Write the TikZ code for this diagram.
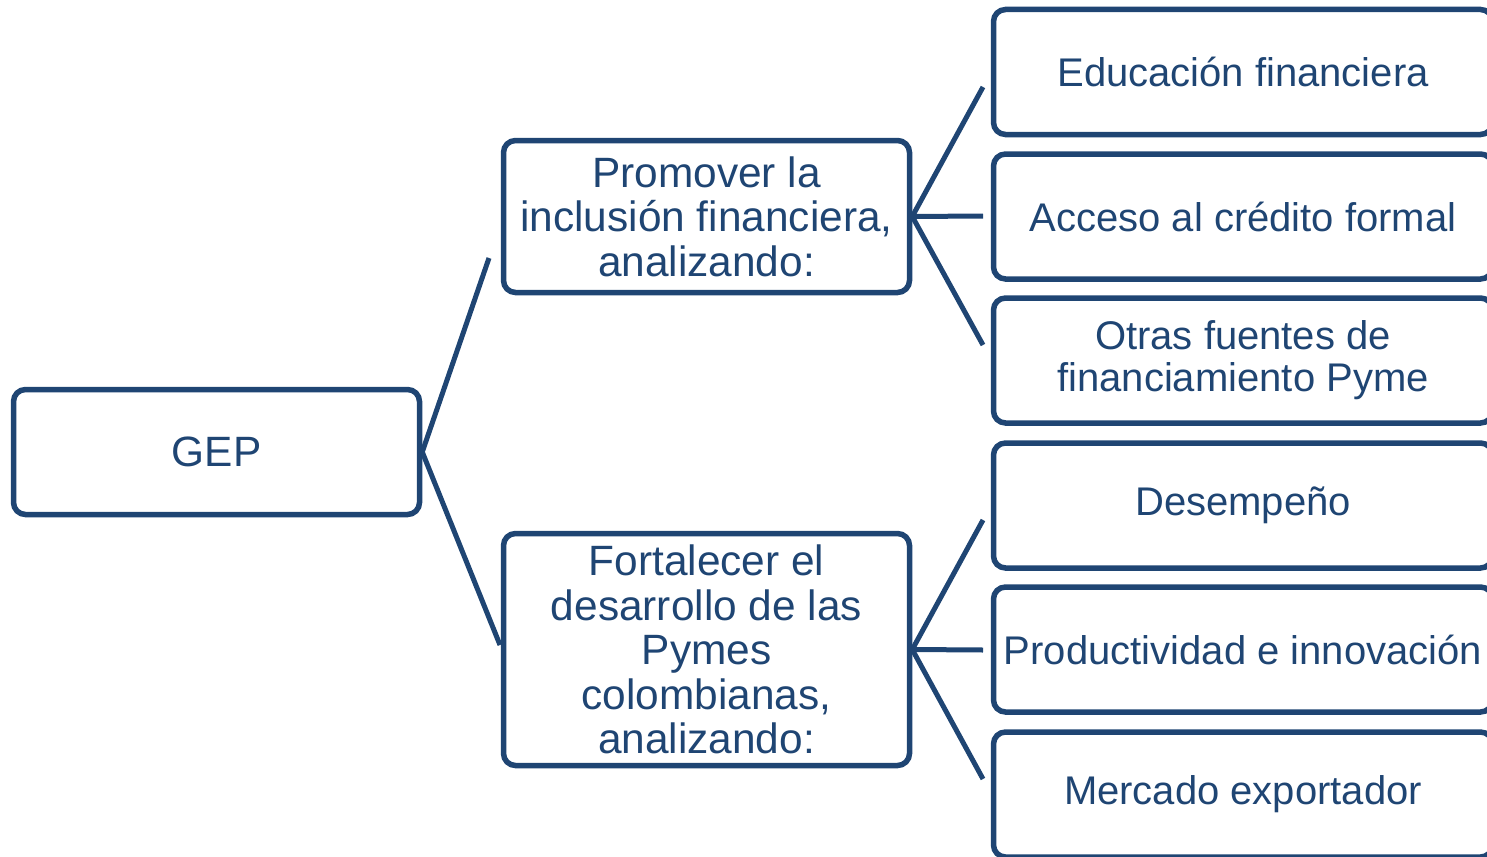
\documentclass[tikz,border=0pt]{standalone}
\usepackage{fontspec}
\setmainfont{Liberation Sans}
\definecolor{navy}{HTML}{1F4573}
\begin{document}
\begin{tikzpicture}[x=0.5pt,y=-0.5pt,
  box/.style={draw=navy, line width=2.75pt, rounded corners=6pt, inner sep=0pt,
    align=center, text=navy, font=\fontsize{20}{22}\selectfont},
  leftbox/.style={box, minimum width=203pt, font=\fontsize{21.2}{22.2}\selectfont},
  rightbox/.style={box, minimum width=249.5pt, minimum height=62.5pt},
  link/.style={draw=navy, line width=2.5pt}]
\useasboundingbox (0,0) rectangle (1487,856);
% main boxes
\node[leftbox, minimum height=62.5pt] (gep) at (216.5,452) {GEP};
\node[leftbox, minimum height=76pt] (prom) at (706.5,216.5) {Promover la\\inclusión financiera,\\analizando:};
\node[leftbox, minimum height=116pt] (fort) at (706.5,649.5) {Fortalecer el\\desarrollo de las\\Pymes\\colombianas,\\analizando:};
% right boxes
\node[rightbox] (edu) at (1243,72) {Educación financiera};
\node[rightbox] (acc) at (1243,216.5) {Acceso al crédito formal};
\node[rightbox, font=\fontsize{20}{21}\selectfont] (otr) at (1243,360.5) {Otras fuentes de\\financiamiento Pyme};
\node[rightbox] (des) at (1243,505.5) {Desempeño};
\node[rightbox] (pro) at (1243,649.5) {Productividad e innovación};
\node[rightbox] (mer) at (1243,794.5) {Mercado exportador};
% connector ends
\coordinate (g1) at (489,258);
\coordinate (g2) at (500,645);
\coordinate (p1) at (983,87);
\coordinate (p2) at (983,216);
\coordinate (p3) at (983,345);
\coordinate (f1) at (983,520);
\coordinate (f2) at (983,650);
\coordinate (f3) at (983,779);
% connectors
\draw[link] (g1) -- (gep.east) -- (g2);
\draw[link] (p1) -- (prom.east) -- (p3);
\draw[link] (prom.east) -- (p2);
\draw[link] (f1) -- (fort.east) -- (f3);
\draw[link] (fort.east) -- (f2);
\end{tikzpicture}
\end{document}
